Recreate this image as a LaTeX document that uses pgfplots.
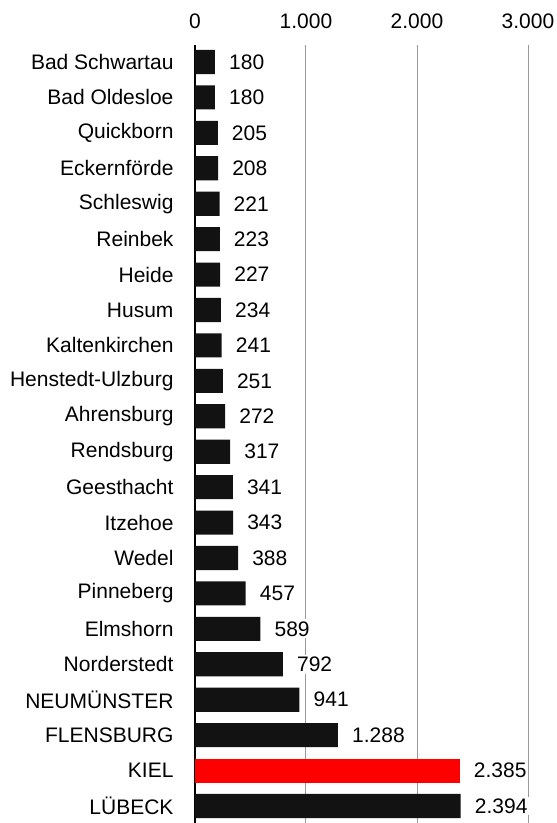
\documentclass[border=0pt]{standalone}
\usepackage{fontspec}
\setmainfont{Liberation Sans}
\usepackage{pgfplots}
\pgfplotsset{compat=1.18}
\begin{document}
\begin{tikzpicture}
\begin{axis}[
  scale only axis,
  width=333pt, height=778pt,
  xbar, bar width=0.68, bar shift=0pt,
  xmin=0, xmax=3000,
  ymin=-0.48, ymax=21.48,
  y dir=reverse,
  axis y line*=left,
  axis x line*=top,
  x axis line style={draw=none},
  y axis line style={black, line width=2.6pt},
  xtick={0,1000,2000,3000},
  ytick={0,...,21},
  yticklabels={Bad Schwartau,Bad Oldesloe,Quickborn,Eckernförde,Schleswig,Reinbek,Heide,Husum,Kaltenkirchen,Henstedt-Ulzburg,Ahrensburg,Rendsburg,Geesthacht,Itzehoe,Wedel,Pinneberg,Elmshorn,Norderstedt,NEUMÜNSTER,FLENSBURG,KIEL,LÜBECK},
  major tick length=0pt,
  xmajorgrids,
  grid style={draw=gray!80, line width=1pt},
  tick label style={font=\fontsize{21}{25}\selectfont, text=black},
  yticklabel style={xshift=-18pt},
  xticklabel style={yshift=13pt},
  /pgf/number format/.cd, use comma, 1000 sep={.}, assume math mode=true,
  /pgfplots/.cd,
  scaled x ticks=false,
  point meta=x,
  nodes near coords,
  nodes near coords style={text=black, fill=white, anchor=west, xshift=12pt, inner sep=2pt, font=\fontsize{21}{25}\selectfont},
  clip=false,
]
\addplot[fill=black!93, draw=none] coordinates {
(180,0) (180,1) (205,2) (208,3) (221,4) (223,5) (227,6) (234,7) (241,8) (251,9)
(272,10) (317,11) (341,12) (343,13) (388,14) (457,15) (589,16) (792,17) (941,18) (1288,19) (2394,21)
};
\addplot[fill=red, draw=none] coordinates {(2385,20)};
\end{axis}
\pgfresetboundingbox
\path ([xshift=-195pt]current axis.south west) rectangle ([xshift=29pt,yshift=45pt]current axis.north east);
\end{tikzpicture}
\end{document}
